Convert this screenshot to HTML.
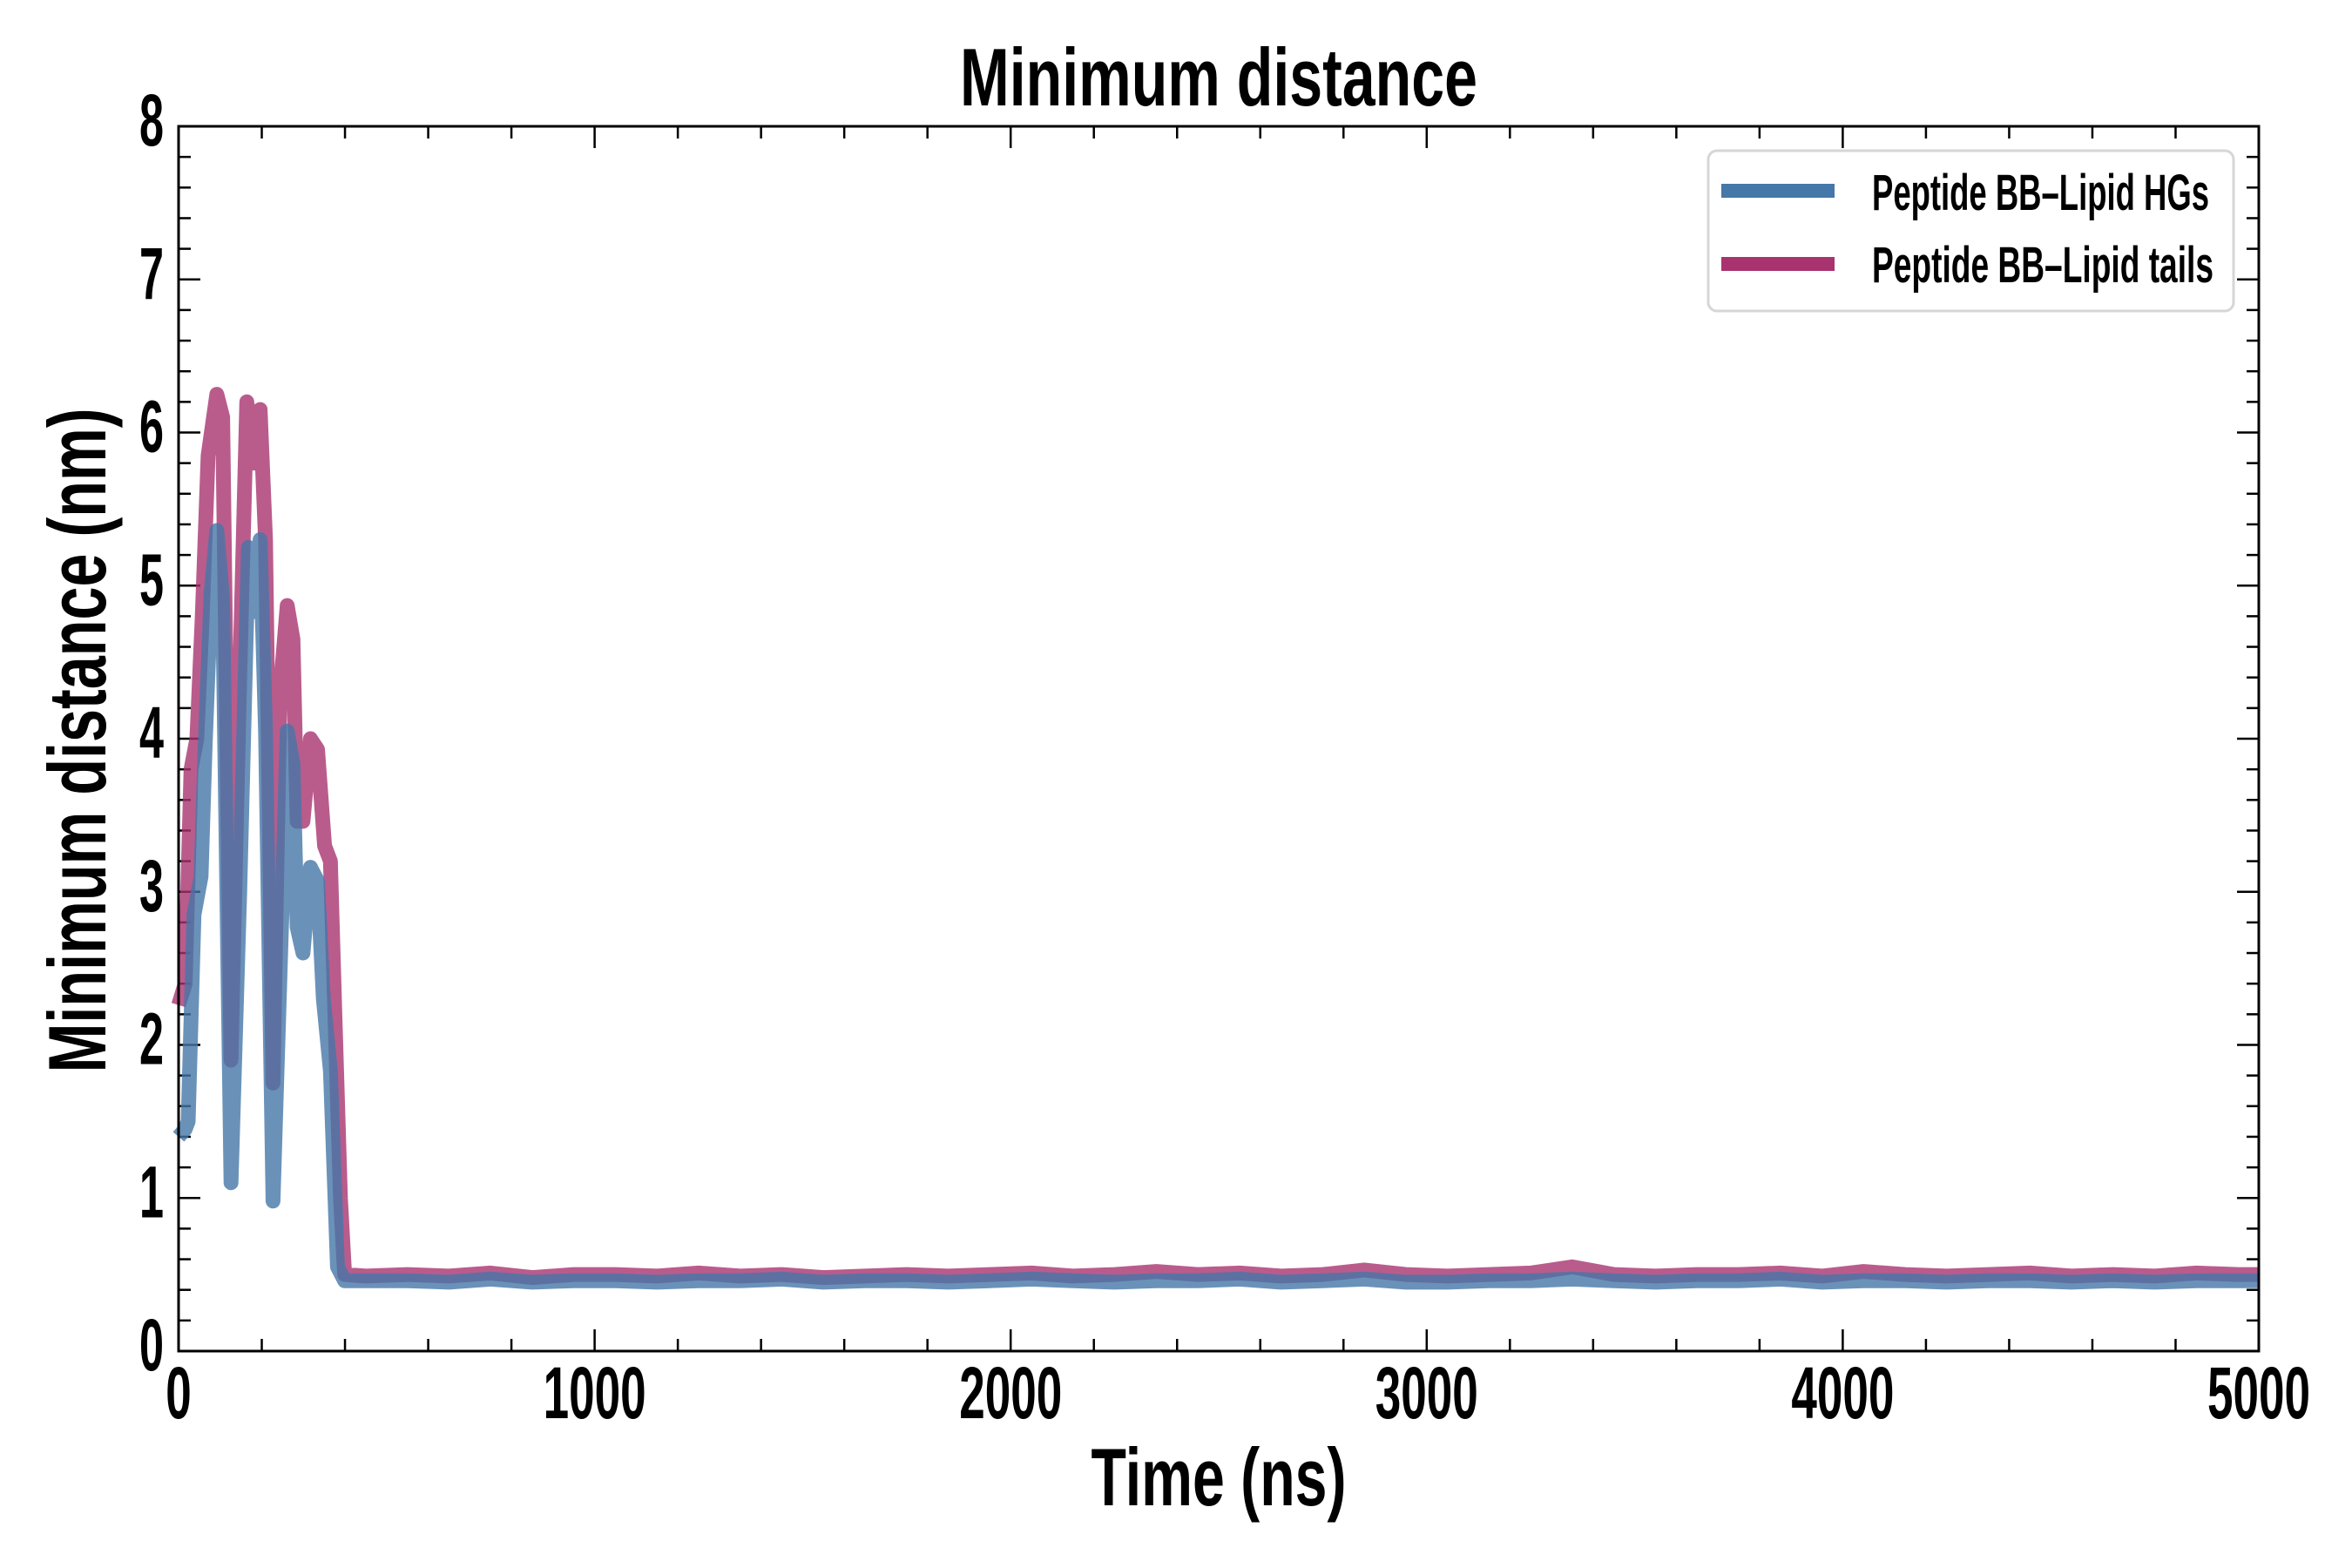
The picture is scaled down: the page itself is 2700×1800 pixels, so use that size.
<!DOCTYPE html>
<html><head><meta charset="utf-8"><style>
html,body{margin:0;padding:0;background:#fff;}
svg{display:block;}
text{font-family:"Liberation Sans Narrow","Liberation Sans",sans-serif;font-weight:bold;fill:#000;}
</style></head><body>
<svg id="chart" width="2700" height="1800" viewBox="0 0 2700 1800" xmlns="http://www.w3.org/2000/svg">
<text x="1399" y="121" font-size="94" text-anchor="middle" textLength="594" lengthAdjust="spacingAndGlyphs">Minimum distance</text>
<g id="ticks"></g>
<g id="series"></g>
<rect x="205" y="145" width="2388" height="1406" fill="none" stroke="#000" stroke-width="3"/>
<text x="1399" y="1728" font-size="94" text-anchor="middle" textLength="293" lengthAdjust="spacingAndGlyphs">Time (ns)</text>
<text transform="translate(121,850) rotate(-90)" font-size="94" text-anchor="middle" textLength="763" lengthAdjust="spacingAndGlyphs">Minimum distance (nm)</text>
<g>
<rect x="1961" y="173" width="603" height="184" rx="10" fill="#fff" fill-opacity="0.85" stroke="#d6d6d6" stroke-width="3"/>
<line x1="1976" y1="219" x2="2106" y2="219" stroke="#4577a8" stroke-width="16"/>
<text x="2149" y="241" font-size="58" textLength="387" lengthAdjust="spacingAndGlyphs">Peptide BB–Lipid HGs</text>
<line x1="1976" y1="303" x2="2106" y2="303" stroke="#a8336f" stroke-width="16"/>
<text x="2149" y="324" font-size="58" textLength="392" lengthAdjust="spacingAndGlyphs">Peptide BB–Lipid tails</text>
</g>
</svg>
<script>
const earlyTimesTails = [0,16,30,44,57,71,92,106,126,147,164,182,196,209,227,244,261,275,285,299,317,334,351,365,375,389,399];
const earlyTails = [2.26,2.4,3.8,4.0,4.8,5.85,6.25,6.1,1.9,4.4,6.2,5.8,6.15,5.3,1.75,4.3,4.87,4.65,3.46,3.46,4.0,3.93,3.3,3.2,2.26,1.0,0.5];
const earlyTimesHGs = [0,16,23,37,54,64,78,92,106,126,147,168,182,196,209,227,251,261,275,285,299,317,334,348,365,382,399];
const earlyHGs = [1.4,1.45,1.5,2.85,3.1,3.97,4.95,5.36,4.9,1.1,3.0,5.25,4.83,5.3,4.05,0.98,3.1,4.05,3.84,2.77,2.6,3.16,3.07,2.3,1.83,0.55,0.46];
const lateTimes = [];
for (let t = 450; t <= 5000; t += 100) lateTimes.push(t);
lateTimes.push(5000);
const lateTails = [0.49,0.50,0.49,0.51,0.48,0.50,0.50,0.49,0.51,0.49,0.50,0.48,0.49,0.50,0.49,0.50,0.51,0.49,0.50,0.52,0.50,0.51,0.49,0.50,0.53,0.50,0.49,0.50,0.51,0.55,0.50,0.49,0.50,0.50,0.51,0.49,0.52,0.50,0.49,0.50,0.51,0.49,0.50,0.49,0.51,0.50,0.50];
const lateHGs = [0.46,0.46,0.45,0.47,0.45,0.46,0.46,0.45,0.46,0.46,0.47,0.45,0.46,0.46,0.45,0.46,0.47,0.46,0.45,0.46,0.46,0.47,0.45,0.46,0.47,0.45,0.45,0.46,0.46,0.47,0.46,0.45,0.46,0.46,0.47,0.45,0.46,0.46,0.45,0.46,0.46,0.45,0.46,0.45,0.46,0.46,0.46];
const xTicks = [0,1000,2000,3000,4000,5000];
const yTicks = [0,1,2,3,4,5,6,7,8];

const NS = "http://www.w3.org/2000/svg";
const X0 = 205, X1 = 2593, Y0 = 1551, Y1 = 145;
function xs(t){ return X0 + (t/5000)*(X1-X0); }
function ys(v){ return Y0 - (v/8)*(Y0-Y1); }

const tg = document.getElementById('ticks');
function line(x1,y1,x2,y2,w){
  const l = document.createElementNS(NS,'line');
  l.setAttribute('x1',x1);l.setAttribute('y1',y1);l.setAttribute('x2',x2);l.setAttribute('y2',y2);
  l.setAttribute('stroke','#000');l.setAttribute('stroke-width',w);
  
  
  tg.appendChild(l);
}
for (let t = 0; t <= 5000; t += 200) {
  const major = t % 1000 === 0, L = major ? 25 : 14, x = xs(t);
  line(x,Y0,x,Y0-L,2.5); line(x,Y1,x,Y1+L,2.5);
}
for (let i = 0; i <= 40; i++) {
  const v = i*0.2, major = i % 5 === 0, L = major ? 25 : 14, y = ys(v);
  line(X0,y,X0+L,y,2.5); line(X1,y,X1-L,y,2.5);
}
xTicks.forEach(t => {
  const tx = document.createElementNS(NS,'text');
  tx.setAttribute('x', xs(t)); tx.setAttribute('y', 1628);
  tx.setAttribute('font-size', 84); tx.setAttribute('text-anchor', 'middle');
  tx.textContent = t;
  tx.setAttribute('textLength', String(t).length * 29.5);
  tx.setAttribute('lengthAdjust', 'spacingAndGlyphs');
  
  
  tg.appendChild(tx);
});
yTicks.forEach(v => {
  const tx = document.createElementNS(NS,'text');
  tx.setAttribute('x', 188); tx.setAttribute('y', ys(v) + 22);
  tx.setAttribute('font-size', 84); tx.setAttribute('text-anchor', 'end');
  tx.textContent = v;
  tx.setAttribute('textLength', 28);
  tx.setAttribute('lengthAdjust', 'spacingAndGlyphs');
  
  
  tg.appendChild(tx);
});

const sg = document.getElementById('series');
function drawSeries(times, vals, color, name){
  const d = times.map((t,i)=>(i?'L':'M')+xs(t).toFixed(1)+','+ys(vals[i]).toFixed(1)).join(' ');
  const p = document.createElementNS(NS,'path');
  p.setAttribute('d', d);
  p.setAttribute('fill','none'); p.setAttribute('stroke',color);
  p.setAttribute('stroke-width',17); p.setAttribute('stroke-opacity',0.8);
  p.setAttribute('stroke-linejoin','round'); p.setAttribute('stroke-linecap','butt');
  
  
  sg.appendChild(p);
}
drawSeries(earlyTimesTails.concat(lateTimes), earlyTails.concat(lateTails), '#a8336f', 'series-lipid-tails');
drawSeries(earlyTimesHGs.concat(lateTimes), earlyHGs.concat(lateHGs), '#4577a8', 'series-lipid-hgs');
</script>
</body></html>
